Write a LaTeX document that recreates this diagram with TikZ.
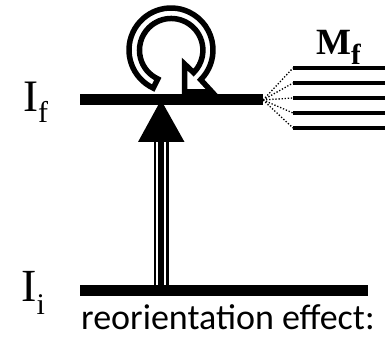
\documentclass[tikz,border=0pt]{standalone}
\usepackage{fontspec}
\newfontfamily\levelfont{Liberation Serif}
\newfontfamily\notefont{Carlito}
\begin{document}
\begin{tikzpicture}[x=1pt,y=1pt,
  level/.style={line width=11pt},
  sublevel/.style={line width=3.5pt},
  fanline/.style={line width=1.3pt, dash pattern=on 1.3pt off 1.8pt},
  lbl/.style={inner sep=0pt, anchor=base west}]
\useasboundingbox (0,0) rectangle (385,344);

% level end points
\coordinate (fL) at (80,244);
\coordinate (fR) at (263,244);
\coordinate (iL) at (80,53);
\coordinate (iR) at (368,53);
\coordinate (arrowtip) at (161,244);
\coordinate (arrowbase) at (161,202);
\coordinate (ifoot) at (161,53);
\coordinate (ringc) at (171,294);

% circular arrow above the upper level (hollow band with outline)
\filldraw[fill=white, draw=black, line width=5.5pt, miter limit=6]
  (ringc) ++(245:42) arc[start angle=245, end angle=-45, radius=42]
  -- (212,252) -- (184.5,252) -- (184.5,280) -- (193.6,271.4)
  arc[start angle=-45, end angle=245, radius=31.7] -- cycle;

% triple transition line
\draw[line width=15pt] (arrowbase) -- (ifoot);
\draw[line width=10.5pt, white] (arrowbase) -- (ifoot);
\draw[line width=6pt] (arrowbase) -- (ifoot);

% levels
\draw[level] (fL) -- (fR);
\draw[level] (iL) -- (iR);

% arrow head of the transition
\fill (arrowtip) -- (138,202) -- (184.5,202) -- cycle;

% magnetic substates fanning out of the upper level
\foreach \yy [count=\k] in {276,261,246,231,216} {
  \coordinate (m\k) at (293,\yy);
  \coordinate (e\k) at (385,\yy);
  \draw[fanline] (fR) -- (m\k);
  \draw[sublevel] (m\k) -- (e\k);
}

% labels
\node[lbl, font=\levelfont\fontsize{45}{45}\selectfont] (labf) at (23,232)
  {I\raisebox{-11pt}{\fontsize{30}{30}\selectfont f}};
\node[lbl, font=\levelfont\fontsize{46}{46}\selectfont] (labi) at (21,42)
  {I\raisebox{-13pt}{\fontsize{30}{30}\selectfont i}};
\node[lbl, font=\levelfont\bfseries\fontsize{37}{37}\selectfont] (labm) at (316,289)
  {M\raisebox{-10pt}{\fontsize{29}{29}\selectfont f}};
\node[lbl, font=\notefont\fontsize{36}{36}\selectfont] (note) at (81,14)
  {reorientation effect:};
\end{tikzpicture}
\end{document}
